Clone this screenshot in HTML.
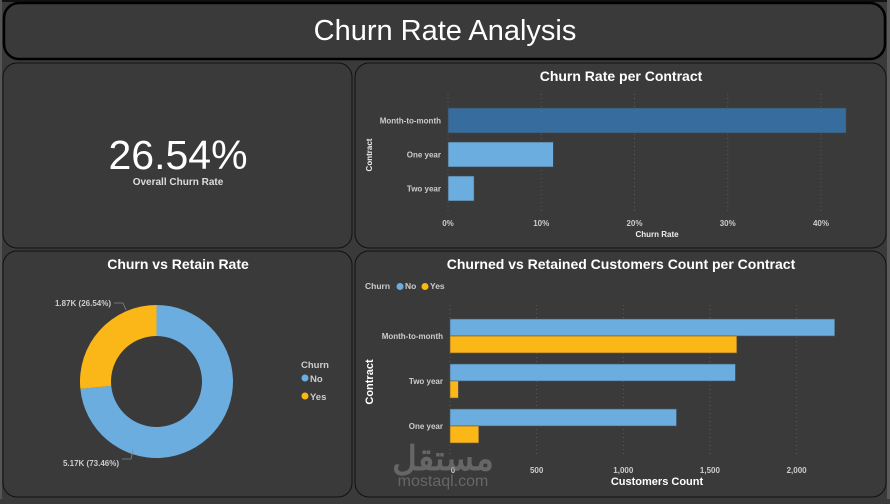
<!DOCTYPE html>
<html><head><meta charset="utf-8">
<style>
html,body{margin:0;padding:0;background:#3a3a3a;}
body{width:890px;height:499px;overflow:hidden;font-family:"Liberation Sans",sans-serif;}
svg text{font-family:"Liberation Sans","Noto Sans CJK SC",sans-serif;}
</style></head>
<body>
<svg id="s" width="890" height="499" viewBox="0 0 890 499" xmlns="http://www.w3.org/2000/svg">
<rect x="0" y="0" width="890" height="499" fill="#3a3a3a"/>
<rect x="0" y="0" width="890" height="2" fill="#111"/>
<rect x="887" y="0" width="3" height="499" fill="#5a5a5a"/>
<rect x="0" y="0" width="2" height="499" fill="#555"/>
<g>
<rect x="4" y="3" width="881" height="56" rx="15" fill="#3a3a3a" stroke="#000" stroke-width="2.5"/>
<text x="445" y="40" text-anchor="middle" fill="#fff" font-size="29">Churn Rate Analysis</text>
</g>
<rect x="3" y="63" width="349" height="185" rx="14" fill="#3a3a3a" stroke="#111" stroke-width="1"/>
<rect x="355" y="63" width="531" height="185" rx="14" fill="#3a3a3a" stroke="#111" stroke-width="1"/>
<rect x="3" y="251" width="349" height="246" rx="14" fill="#3a3a3a" stroke="#111" stroke-width="1"/>
<rect x="355" y="251" width="531" height="246" rx="14" fill="#3a3a3a" stroke="#111" stroke-width="1"/>
<text x="178" y="169" text-anchor="middle" fill="#fff" font-size="41">26.54%</text>
<text x="178" y="185" text-anchor="middle" fill="#ddd" font-size="10" font-weight="bold">Overall Churn Rate</text>
<text x="621" y="81" text-anchor="middle" fill="#fff" font-size="14" font-weight="bold">Churn Rate per Contract</text>
<text x="178" y="269" text-anchor="middle" fill="#fff" font-size="14" font-weight="bold">Churn vs Retain Rate</text>
<text x="621" y="269" text-anchor="middle" fill="#fff" font-size="14" font-weight="bold">Churned vs Retained Customers Count per Contract</text>
<g id="c1"></g><g id="c2"></g><g id="c3"></g>
<g opacity="0.55">
<text x="443" y="470" text-anchor="middle" fill="#8a8a8a" font-size="34" font-weight="bold" font-family="'DejaVu Sans',sans-serif">مستقل</text>
<text x="443" y="486" text-anchor="middle" fill="#8a8a8a" font-size="16">mostaql.com</text>
</g>
</svg>
<script>
const NS='http://www.w3.org/2000/svg';
function mk(p,t,a,txt){const e=document.createElementNS(NS,t);for(const k in a)e.setAttribute(k,a[k]);if(txt!==undefined)e.textContent=txt;p.appendChild(e);return e;}
// Chart 1 data
const rateCats=['Month-to-month','One year','Two year'];
const rateVals=[42.7,11.3,2.8];
const rateTicks=[0,10,20,30,40];
// Chart 2 data
const cntCats=['Month-to-month','Two year','One year'];
const cntNo=[2220,1647,1307];
const cntYes=[1655,48,166];
const cntTicks=[0,500,1000,1500,2000];
const cntTickLabels=['0','500','1,000','1,500','2,000'];
// Donut data
const pieLabels=['No','Yes'];
const pieVals=[5174,1869];
const pieText=['5.17K (73.46%)','1.87K (26.54%)'];

// chart 1
(function(){
const g=document.getElementById('c1');
const x=v=>448+v*9.325;
rateTicks.forEach(t=>{
 const l=mk(g,'line',{x1:x(t),x2:x(t),y1:94,y2:212,stroke:'#5a5a5a','stroke-dasharray':'1,3'});
 
 const tx=mk(g,'text',{x:x(t),y:226,'text-anchor':'middle',fill:'#ccc','font-size':'8','font-weight':'bold'},t+'%');
 
});
rateCats.forEach((c,i)=>{
 const y=108+i*34;
 const r=mk(g,'rect',{x:x(0),y:y,width:x(rateVals[i])-x(0),height:25,fill:i==0?'#376c9e':'#6caddf',stroke:'#444','stroke-width':'0.6'});
 
 const t=mk(g,'text',{x:441,y:y+15.5,'text-anchor':'end',fill:'#ccc','font-size':'8','font-weight':'bold'},c);
 
});
const xt=mk(g,'text',{x:657,y:237,'text-anchor':'middle',fill:'#eee','font-size':'8','font-weight':'bold'},'Churn Rate');

const yt=mk(g,'text',{x:0,y:0,transform:'translate(372,155) rotate(-90)','text-anchor':'middle',fill:'#eee','font-size':'8','font-weight':'bold'},'Contract');

})();

// chart 2
(function(){
const g=document.getElementById('c2');
const x=v=>450+v*0.1733;
cntTicks.forEach((t,i)=>{
 const l=mk(g,'line',{x1:x(t),x2:x(t),y1:305,y2:455,stroke:'#5a5a5a','stroke-dasharray':'1,3'});
 
 const tx=mk(g,'text',{x:x(t)+(i==0?3:0),y:473,'text-anchor':'middle',fill:'#ccc','font-size':'8','font-weight':'bold'},cntTickLabels[i]);
 
});
cntCats.forEach((c,i)=>{
 const y=319+i*45;
 const a=mk(g,'rect',{x:x(0),y:y,width:x(cntNo[i])-x(0),height:17,fill:'#6caddf',stroke:'#456','stroke-width':'0.6'});
 
 const b=mk(g,'rect',{x:x(0),y:y+17,width:x(cntYes[i])-x(0),height:17,fill:'#fbb617',stroke:'#654','stroke-width':'0.6'});
 
 const t=mk(g,'text',{x:443,y:y+20,'text-anchor':'end',fill:'#ccc','font-size':'8','font-weight':'bold'},c);
 
});
const xt=mk(g,'text',{x:657,y:485,'text-anchor':'middle',fill:'#fff','font-size':'11','font-weight':'bold'},'Customers Count');

const yt=mk(g,'text',{x:0,y:0,transform:'translate(373,382) rotate(-90)','text-anchor':'middle',fill:'#fff','font-size':'11','font-weight':'bold'},'Contract');

const lg=mk(g,'g',{});

mk(lg,'text',{x:365,y:289,fill:'#ccc','font-size':'8.5','font-weight':'bold'},'Churn');
mk(lg,'circle',{cx:400,cy:286.5,r:3.5,fill:'#6caddf'});
mk(lg,'text',{x:405,y:289,fill:'#ccc','font-size':'8.5','font-weight':'bold'},'No');
mk(lg,'circle',{cx:425,cy:286.5,r:3.5,fill:'#fbb617'});
mk(lg,'text',{x:430,y:289,fill:'#ccc','font-size':'8.5','font-weight':'bold'},'Yes');
})();

// donut
(function(){
const g=document.getElementById('c3');
const cx=156.5,cy=381.5,R=76.5,r=45.5;
const tot=pieVals.reduce((a,b)=>a+b,0);
const cols=['#6caddf','#fbb617'];
let a0=0;
const pt=(ang,rad)=>[cx+rad*Math.sin(ang),cy-rad*Math.cos(ang)];
pieVals.forEach((v,i)=>{
 const a1=a0+v/tot*2*Math.PI;
 const big=(a1-a0)>Math.PI?1:0;
 const p1=pt(a0,R),p2=pt(a1,R),p3=pt(a1,r),p4=pt(a0,r);
 const d=`M${p1} A${R},${R} 0 ${big} 1 ${p2} L${p3} A${r},${r} 0 ${big} 0 ${p4} Z`;
 const s=mk(g,'path',{d:d,fill:cols[i]});
 
 a0=a1;
});
const l1=mk(g,'polyline',{points:'122,459 131,459 133,450',fill:'none',stroke:'#888','stroke-width':'0.8'});

const l2=mk(g,'polyline',{points:'114,303 123,303 126,310',fill:'none',stroke:'#888','stroke-width':'0.8'});

const t1=mk(g,'text',{x:119,y:466,'text-anchor':'end',fill:'#ccc','font-size':'8','font-weight':'bold'},pieText[0]);

const t2=mk(g,'text',{x:111,y:306,'text-anchor':'end',fill:'#ccc','font-size':'8','font-weight':'bold'},pieText[1]);

const lg=mk(g,'g',{});

mk(lg,'text',{x:301,y:368,fill:'#ccc','font-size':'9.5','font-weight':'bold'},'Churn');
mk(lg,'circle',{cx:305,cy:378,r:3.5,fill:'#6caddf'});
mk(lg,'text',{x:310,y:382,fill:'#ccc','font-size':'9.5','font-weight':'bold'},'No');
mk(lg,'circle',{cx:305,cy:396,r:3.5,fill:'#fbb617'});
mk(lg,'text',{x:310,y:400,fill:'#ccc','font-size':'9.5','font-weight':'bold'},'Yes');
})();
</script>
</body></html>
